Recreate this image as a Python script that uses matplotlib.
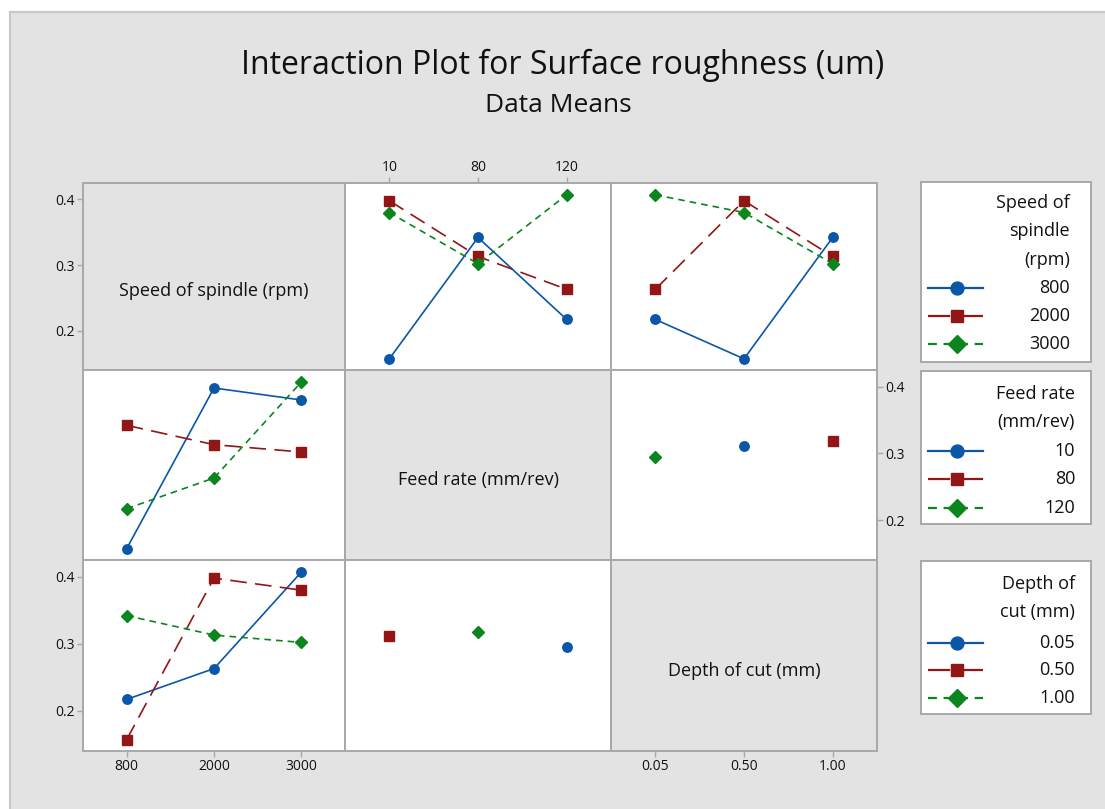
import matplotlib
matplotlib.use("Agg")
import matplotlib.pyplot as plt
import numpy as np
from matplotlib.patches import Rectangle

plt.rcParams['font.family'] = ['Open Sans', 'DejaVu Sans']

# ---------------- data ----------------
factor_names = ["Speed of spindle (rpm)", "Feed rate (mm/rev)", "Depth of cut (mm)"]
legend_titles = ["Speed of\nspindle\n(rpm)", "Feed rate\n(mm/rev)", "Depth of\ncut (mm)"]
speed_levels = ["800", "2000", "3000"]
feed_levels = ["10", "80", "120"]
depth_levels = ["0.05", "0.50", "1.00"]

# mean surface roughness, rows = speed level, cols = feed level
speed_by_feed = [
    [0.157, 0.342, 0.217],
    [0.398, 0.313, 0.263],
    [0.380, 0.302, 0.407],
]
# rows = speed level, cols = depth level
speed_by_depth = [
    [0.217, 0.157, 0.342],
    [0.263, 0.398, 0.313],
    [0.407, 0.380, 0.302],
]
# rows = feed level, cols = depth level (empty cells = not observed)
feed_by_depth = [
    [np.nan, 0.311, np.nan],
    [np.nan, np.nan, 0.318],
    [0.295, np.nan, np.nan],
]
y_ticks = [0.2, 0.3, 0.4]
y_limits = (0.140, 0.425)

# ---------------- styling ----------------
BLUE, RED, GREEN = '#0a57a8', '#921616', '#0b861e'
styles = [
    dict(color=BLUE, ls='-', marker='o', ms=6.8),
    dict(color=RED, ls=(0, (10, 5)), marker='s', ms=6.8),
    dict(color=GREEN, ls=(0, (4, 3)), marker='D', ms=6.3),
]
EDGE = '#a8a8a8'
BG = '#e3e3e3'
TXT = '#111111'

W, H = 1105, 809
fig = plt.figure(figsize=(W / 100, H / 100), dpi=100)
fig.patch.set_facecolor('white')
fig.add_artist(Rectangle((10 / W, -0.01), 1.0, 1 - 12 / H + 0.01, transform=fig.transFigure,
                         facecolor=BG, edgecolor='#c8c8c8', lw=1.5, zorder=0))


def rect(x0, y0, x1, y1):
    return [x0 / W, 1 - y1 / H, (x1 - x0) / W, (y1 - y0) / H]


fig.text(563 / W, 1 - 65 / H, "Interaction Plot for Surface roughness (um)",
         ha='center', va='center', fontsize=23, color=TXT)
fig.text(558 / W, 1 - 105 / H, "Data Means", ha='center', va='center', fontsize=19, color=TXT)

levels = [speed_levels, feed_levels, depth_levels]
tables = {
    (0, 1): np.array(speed_by_feed),
    (1, 0): np.array(speed_by_feed).T,
    (0, 2): np.array(speed_by_depth),
    (2, 0): np.array(speed_by_depth).T,
    (1, 2): np.array(feed_by_depth, dtype=float),
    (2, 1): np.array(feed_by_depth, dtype=float).T,
}

xe = [83, 345, 611, 877]
ye = [183, 370, 560, 751]

axes = {}
for i in range(3):
    for j in range(3):
        ax = fig.add_axes(rect(xe[j], ye[i], xe[j + 1], ye[i + 1]))
        axes[(i, j)] = ax
        ax.set_xlim(-0.5, 2.5)
        ax.set_ylim(*y_limits)
        for s in ax.spines.values():
            s.set_color(EDGE)
            s.set_linewidth(1.4)
        ax.set_xticks([])
        ax.set_yticks([])
        ax.tick_params(length=4, width=1, color=EDGE, labelsize=10, labelcolor=TXT, pad=2)
        if i == j:
            ax.set_facecolor(BG)
            ax.text(0.5, 0.42, factor_names[i], transform=ax.transAxes, ha='center',
                    va='center', fontsize=13, color=TXT)
        else:
            ax.set_facecolor('white')
            tab = tables[(i, j)]
            xs = np.arange(len(levels[j]))
            for k in range(tab.shape[0]):
                st = styles[k]
                ax.plot(xs, tab[k], color=st['color'], ls=st['ls'], lw=1.2,
                        marker=st['marker'], ms=st['ms'], mec=st['color'], mfc=st['color'],
                        zorder=3, clip_on=False)

# tick placement in Minitab alternating style
for (i, j), side in [((0, 0), 'left'), ((2, 0), 'left'), ((1, 2), 'right')]:
    ax = axes[(i, j)]
    ax.set_yticks(y_ticks)
    ax.set_yticklabels([f"{v:.1f}" for v in y_ticks])
    if side == 'right':
        ax.yaxis.tick_right()
for (i, j), side in [((0, 1), 'top'), ((2, 0), 'bottom'), ((2, 2), 'bottom')]:
    ax = axes[(i, j)]
    ax.set_xticks(range(3))
    ax.set_xticklabels(levels[j])
    if side == 'top':
        ax.xaxis.tick_top()

# ---------------- legends ----------------
boxes = [(921, 182, 1091, 362), (921, 371, 1091, 524), (921, 561, 1091, 714)]
title_y = [[203, 231, 260], [394, 422], [584, 612]]
entry_y = [[288, 316, 344], [451, 479, 508], [643, 670, 698]]
text_right = [1070, 1075, 1075]
for b in range(3):
    x0, y0, x1, y1 = boxes[b]
    lax = fig.add_axes(rect(x0, y0, x1, y1))
    lax.set_xlim(x0, x1)
    lax.set_ylim(y1, y0)
    lax.set_xticks([])
    lax.set_yticks([])
    lax.set_facecolor('white')
    for s in lax.spines.values():
        s.set_color(EDGE)
        s.set_linewidth(1.4)
    for t, ty in zip(legend_titles[b].split("\n"), title_y[b]):
        lax.text(text_right[b], ty, t, ha='right', va='center', fontsize=13, color=TXT)
    for k, ey in enumerate(entry_y[b]):
        st = styles[k]
        lax.plot([928, 983], [ey, ey], color=st['color'], ls=st['ls'], lw=1.6)
        lax.plot([957], [ey], marker=st['marker'], ms=st['ms'] + 2.5, color=st['color'])
        lax.text(text_right[b], ey, levels[b][k], ha='right', va='center', fontsize=13, color=TXT)

fig.savefig("out.png", dpi=100, facecolor=fig.get_facecolor())
